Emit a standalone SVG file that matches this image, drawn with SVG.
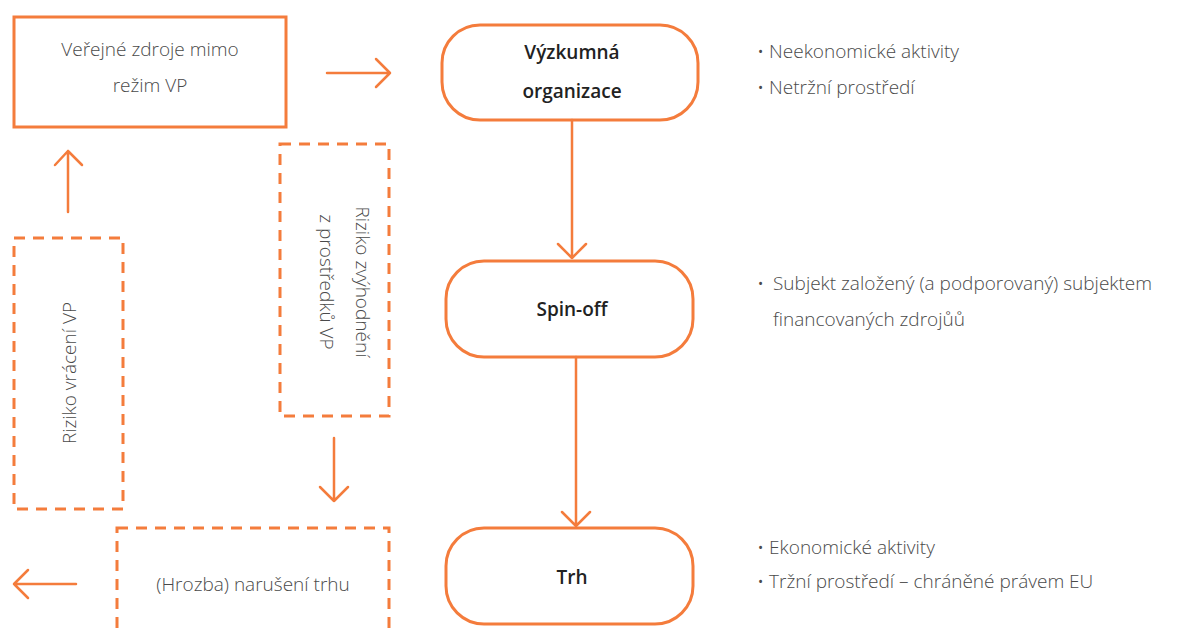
<svg xmlns="http://www.w3.org/2000/svg" width="1181" height="633" viewBox="0 0 1181 633">
<style>
.solid{fill:none;stroke:#F47C3C;stroke-width:3}
.dash{fill:none;stroke:#F47C3C;stroke-width:3;stroke-dasharray:11 8}
.conn{fill:none;stroke:#F47C3C;stroke-width:2.5;stroke-linecap:round;stroke-linejoin:round}
.lt{font-family:"Open Sans","Liberation Sans",sans-serif;font-weight:300;font-size:19px;fill:#4a4a4a}
.bd{font-family:"Open Sans","Liberation Sans",sans-serif;font-weight:600;font-size:19px;fill:#222}
.c{text-anchor:middle}
</style>
<rect width="1181" height="633" fill="#fff"/>
<g id="verejne-zdroje">
<rect class="solid" x="14" y="17" width="272" height="110"/>
<text class="lt c" x="150" y="56">Veřejné zdroje mimo</text>
<text class="lt c" x="150" y="92">režim VP</text>
</g>
<g id="vyzkumna-organizace">
<rect class="solid" x="442" y="25" width="256" height="95" rx="38"/>
<text class="bd c" x="572" y="59">Výzkumná</text>
<text class="bd c" x="572" y="98">organizace</text>
</g>
<g id="spin-off">
<rect class="solid" x="446" y="261" width="247" height="96" rx="38"/>
<text class="bd c" x="572" y="316">Spin-off</text>
</g>
<g id="trh">
<rect class="solid" x="446" y="528" width="247" height="96" rx="38"/>
<text class="bd c" x="572" y="584">Trh</text>
</g>
<g id="riziko-vraceni">
<rect class="dash" x="14" y="238" width="109" height="271"/>
<text class="lt c" transform="translate(76,373) rotate(-90)">Riziko vrácení VP</text>
</g>
<g id="riziko-zvyhodneni">
<rect class="dash" x="280" y="144" width="109" height="272"/>
<text class="lt c" transform="translate(356,282) rotate(90)">Riziko zvýhodnění</text>
<text class="lt c" transform="translate(320,282) rotate(90)">z prostředků VP</text>
</g>
<g id="narušeni-trhu">
<rect class="dash" x="117" y="528" width="272" height="120"/>
<text class="lt c" x="253" y="591">(Hrozba) narušení trhu</text>
</g>
<g id="popisy">
<text class="lt" x="757" y="58">• Neekonomické aktivity</text>
<text class="lt" x="757" y="94">• Netržní prostředí</text>
<text class="lt" x="757" y="290">•<tspan x="773">Subjekt založený (a podporovaný) subjektem</tspan></text>
<text class="lt" x="773" y="326">financovaných zdrojůů</text>
<text class="lt" x="757" y="554">• Ekonomické aktivity</text>
<text class="lt" x="757" y="588">• Tržní prostředí – chráněné právem EU</text>
</g>
<g id="connectors">
<path class="conn" d="M327 73H390M376 59L390 73L376 87"/>
<path class="conn" d="M572 120V258M558 244L572 258L586 244"/>
<path class="conn" d="M576 357V526M562 512L576 526L590 512"/>
<path class="conn" d="M68 212V151M55 165L68 151L82 165"/>
<path class="conn" d="M334 438V501M320 487L334 501L348 487"/>
<path class="conn" d="M76 584H14M28 570L14 584L28 598"/>
</g>
</svg>
